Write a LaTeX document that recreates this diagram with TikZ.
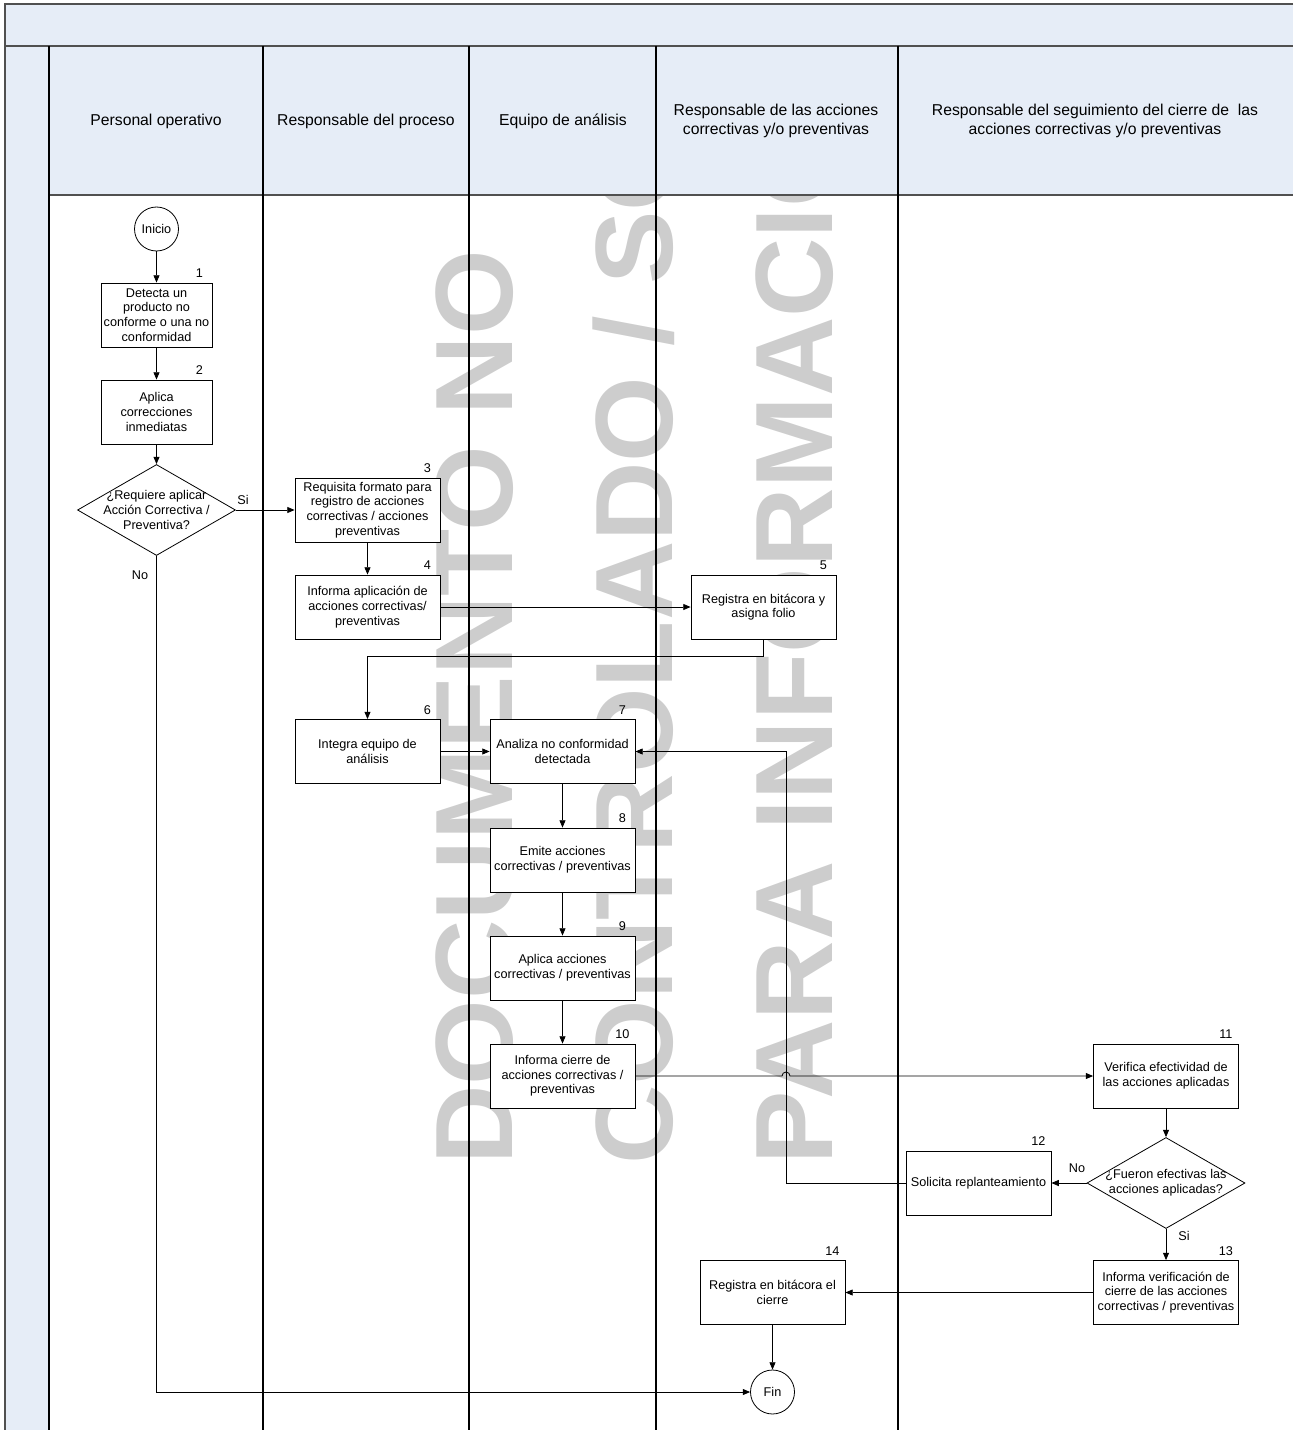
\documentclass[tikz,border=0pt]{standalone}
\usepackage{fontspec}
\setmainfont{Liberation Sans}
\usetikzlibrary{shapes.geometric,arrows.meta,calc}
\definecolor{hdr}{HTML}{E6EDF7}
\definecolor{wm}{HTML}{CDCDCD}
\definecolor{frame}{HTML}{505050}
\begin{document}
\begin{tikzpicture}[x={(0.75pt,0pt)},y={(0pt,-0.75pt)},
  every node/.style={font=\fontsize{9.5}{11}\selectfont},
  box/.style={draw, fill=white, line width=0.6pt, minimum width=108.75pt, minimum height=48pt, align=center, inner sep=1pt},
  nbox/.style={box, minimum width=83.25pt},
  num/.style={anchor=base, inner sep=0pt},
  term/.style={circle, draw, fill=white, line width=0.6pt, minimum size=33pt, inner sep=0pt},
  dec/.style={diamond, draw, fill=white, line width=0.6pt, minimum width=118.5pt, minimum height=68.25pt, inner sep=0pt},
  dtext/.style={align=center, inner sep=0pt},
  lbl/.style={inner sep=0pt},
  hd/.style={align=center, inner sep=0pt, font=\fontsize{11.8}{14}\selectfont},
  arr/.style={-{Triangle[length=5.5pt,width=4.5pt]}, line width=0.6pt},
  lane/.style={line width=0.8pt},
  wmk/.style={rotate=90, anchor=base west, inner sep=0pt, text=wm, font=\fontsize{82.5}{82.5}\selectfont\bfseries}
]
\useasboundingbox (0,0) rectangle (1293,1430);

% watermark
\begin{scope}
\clip (49,195) rectangle (1293,1430);
\node[wmk] (wm1) at (512,1165) {DOCUMENTO NO};
\node[wmk] (wm2) at (672,1165) {CONTROLADO / SÓ};
\node[wmk] (wm3) at (832,1165) {PARA INFORMACIÓN};
\end{scope}

% header areas
\fill[hdr] (5,4) rectangle (1293,46);
\fill[hdr] (5,46) rectangle (49,1430);
\fill[hdr] (49,46) rectangle (1293,195);
\draw[frame, line width=0.9pt] (1293,4) -- (5,4) -- (5,1430);
\draw[frame, line width=0.9pt] (5,46) -- (1293,46);
\draw[frame, line width=0.9pt] (49,195) -- (1293,195);
\draw[black, line width=1.2pt] (49,46) -- (49,1430);
\foreach \x in {263,469,656,898} \draw[lane] (\x,46) -- (\x,1430);

\node[hd] (h1) at (156,121) {Personal operativo};
\node[hd] (h2) at (366,121) {Responsable del proceso};
\node[hd] (h3) at (563,121) {Equipo de análisis};
\node[hd] (h4) at (776,121) {Responsable de las acciones\\correctivas y/o preventivas};
\node[hd] (h5) at (1095,121) {Responsable del seguimiento del cierre de~ las\\acciones correctivas y/o preventivas};

% nodes
\node[term] (ini) at (156.5,229) {Inicio};
\node[nbox] (b1) at (156.5,315) {Detecta un\\producto no\\conforme o una no\\conformidad};
\node[nbox] (b2) at (156.5,412) {Aplica\\correcciones\\inmediatas};
\node[dec] (d1) at (156.5,510) {};
\node[dtext] (d1t) at (d1) {¿Requiere aplicar\\Acción Correctiva /\\Preventiva?};
\node[box] (b3) at (367.5,510) {Requisita formato para\\registro de acciones\\correctivas / acciones\\preventivas};
\node[box] (b4) at (367.5,607) {Informa aplicación de\\acciones correctivas/\\preventivas};
\node[box] (b5) at (763.5,607) {Registra en bitácora y\\asigna folio};
\node[box] (b6) at (367.5,751.5) {Integra equipo de\\análisis};
\node[box] (b7) at (562.5,751.5) {Analiza no conformidad\\detectada};
\node[box] (b8) at (562.5,860) {Emite acciones\\correctivas / preventivas};
\node[box] (b9) at (562.5,968) {Aplica acciones\\correctivas / preventivas};
\node[box] (b10) at (562.5,1076) {Informa cierre de\\acciones correctivas /\\preventivas};
\node[box] (b11) at (1166,1076) {Verifica efectividad de\\las acciones aplicadas};
\node[dec] (d2) at (1166,1183) {};
\node[dtext] (d2t) at (d2) {¿Fueron efectivas las\\acciones aplicadas?};
\node[box] (b12) at (978.5,1183) {Solicita replanteamiento};
\node[box] (b13) at (1166,1292.5) {Informa verificación de\\cierre de las acciones\\correctivas / preventivas};
\node[box] (b14) at (772.5,1292.5) {Registra en bitácora el\\cierre};
\node[term] (fin) at (772.5,1392) {Fin};

% step numbers
\foreach \b/\n in {b1/1,b2/2,b3/3,b4/4,b5/5,b6/6,b7/7,b8/8,b9/9,b10/10,b11/11,b12/12,b13/13,b14/14}
  \node[num] (n\n) at ($(\b.north east)+(-13,-5)$) {\n};

% connectors
\coordinate (r1) at (786,1183);
\draw[arr] (ini) -- (b1);
\draw[arr] (b1) -- (b2);
\draw[arr] (b2) -- (d1);
\draw[arr] (d1.east) -- (b3.west);
\draw[arr] (d1.south) |- (fin.west);
\draw[arr] (b3) -- (b4);
\draw[arr] (b4.east) -- (b5.west);
\draw[arr] (b5.south) -- ++(0,17) -| (b6.north);
\draw[arr] (b6.east) -- (b7.west);
\draw[arr] (b7) -- (b8);
\draw[arr] (b8) -- (b9);
\draw[arr] (b9) -- (b10);
\draw[arr] (b10.east) -- ($(r1 |- b10.east)+(-4,0)$) arc[start angle=180, end angle=360, radius=4] -- (b11.west);
\draw[arr] (b11) -- (d2);
\draw[arr] (d2.west) -- (b12.east);
\draw[arr] (b12.west) -- (r1) |- (b7.east);
\draw[arr] (d2) -- (b13);
\draw[arr] (b13.west) -- (b14.east);
\draw[arr] (b14) -- (fin);

% labels
\node[lbl] (si1) at (243,500) {Si};
\node[lbl] (no1) at (140,575) {No};
\node[lbl] (no2) at (1077,1168) {No};
\node[lbl] (si2) at (1184,1236) {Si};
\end{tikzpicture}
\end{document}
